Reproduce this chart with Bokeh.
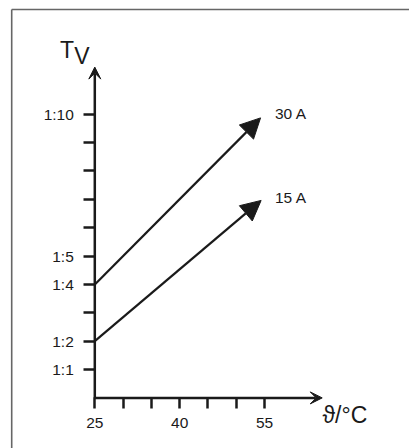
from bokeh.plotting import figure
from bokeh.models import (LinearAxis, FixedTicker, Arrow, NormalHead, VeeHead,
                          Label, Range1d, ColumnDataSource)
from bokeh.embed import file_html
from bokeh.resources import INLINE

# ---- data ----
currents = ["30 A", "15 A"]
temp_start = [25, 25]
temp_end = [54.3, 54.4]
ratio_start = [4, 2]
ratio_end = [9.87, 6.96]

x_ticks = [25, 30, 35, 40, 45, 50, 55]
x_tick_labels = {25: "25", 40: "40", 55: "55"}
y_ticks = [1, 2, 3, 4, 5, 6, 7, 8, 9, 10]
y_tick_labels = {1: "1:1", 2: "1:2", 4: "1:4", 5: "1:5", 10: "1:10"}
x_axis_end = 65.2
y_axis_end = 11.66

x_title = "ϑ/°C"
y_title_main = "T"
y_title_sub = "V"

# ---- layout helpers (page pixel -> data) ----
X0_PX, XS = 94.3, 5.657   # x=25 at page px 94.3, px per degree
Y0_PX, YS = 397.4, 28.37  # y=0 at page px 397.4, px per unit
OFF = 0                   # page offset of the figure


def dx(px):
    return 25 + (px - X0_PX) / XS


def dy(py):
    return (Y0_PX - py) / YS


W, H = 409, 448
INK = "#1a1a1a"
FONT = "Liberation Sans"
TICK_FS = "15.5px"

p = figure(width=W, height=H, output_backend="svg", toolbar_location=None,
           x_range=Range1d(dx(OFF), dx(OFF + W)), y_range=Range1d(dy(OFF + H), dy(OFF)),
           x_axis_type=None, y_axis_type=None, min_border=0)
p.outline_line_color = None
p.background_fill_color = "white"
p.border_fill_color = "white"

# page frame (top and left edges)
p.segment(x0=[dx(11.2), dx(11.2)], y0=[dy(9), dy(9)],
          x1=[dx(11.2), dx(OFF + W)], y1=[dy(OFF + H), dy(9)],
          line_color="#666666", line_width=1.6)

xaxis = LinearAxis(fixed_location=0, bounds=(25, x_axis_end),
                   ticker=FixedTicker(ticks=x_ticks),
                   major_label_overrides={t: x_tick_labels.get(t, "") for t in x_ticks},
                   axis_line_color=None, major_tick_in=0, major_tick_out=11,
                   minor_tick_out=0, minor_tick_in=0,
                   major_tick_line_width=2.5, major_tick_line_color=INK,
                   major_label_text_font=FONT, major_label_text_font_size=TICK_FS,
                   major_label_text_color=INK, major_label_standoff=9)
p.add_layout(xaxis, "below")

yaxis = LinearAxis(fixed_location=25, bounds=(0, y_axis_end),
                   ticker=FixedTicker(ticks=y_ticks),
                   major_label_overrides={t: y_tick_labels.get(t, "") for t in y_ticks},
                   axis_line_color=None, major_tick_in=0, major_tick_out=11,
                   minor_tick_out=0, minor_tick_in=0,
                   major_tick_line_width=2.5, major_tick_line_color=INK,
                   major_label_text_font=FONT, major_label_text_font_size=TICK_FS,
                   major_label_text_color=INK, major_label_standoff=10)
p.add_layout(yaxis, "left")

# axis lines with arrow heads
p.add_layout(Arrow(end=VeeHead(size=12, fill_color=INK, line_color=INK, line_width=1),
                   x_start=25, y_start=0, x_end=x_axis_end, y_end=0,
                   line_width=2.5, line_color=INK))
p.add_layout(Arrow(end=VeeHead(size=12, fill_color=INK, line_color=INK, line_width=1),
                   x_start=25, y_start=0, x_end=25, y_end=y_axis_end,
                   line_width=2.5, line_color=INK))

# data arrows
src = ColumnDataSource(dict(x0=temp_start, y0=ratio_start, x1=temp_end, y1=ratio_end))
p.add_layout(Arrow(end=NormalHead(size=20, fill_color=INK, line_color=INK, line_width=1),
                   source=src, x_start="x0", y_start="y0", x_end="x1", y_end="y1",
                   line_width=2.2, line_color=INK))

# line labels (baseline positions, corrected for renderer offset)
label_pos = [(274.5, 113.0), (274.5, 197.3)]
for txt, (lx, ly) in zip(currents, label_pos):
    p.add_layout(Label(x=dx(lx), y=dy(ly), text=txt, text_font=FONT,
                       text_font_size="15.5px", text_color=INK,
                       text_baseline="alphabetic", text_align="left"))

# axis titles
p.add_layout(Label(x=dx(322), y=dy(414.7), text=x_title, text_font=FONT,
                   text_font_size="23px", text_color=INK,
                   text_baseline="alphabetic", text_align="left"))
p.add_layout(Label(x=dx(59.5), y=dy(49), text=y_title_main, text_font=FONT,
                   text_font_size="23px", text_color=INK,
                   text_baseline="alphabetic", text_align="left"))
p.add_layout(Label(x=dx(73.8), y=dy(55), text=y_title_sub, text_font=FONT,
                   text_font_size="23px", text_color=INK,
                   text_baseline="alphabetic", text_align="left"))

open("out.html", "w").write(file_html(p, INLINE))
